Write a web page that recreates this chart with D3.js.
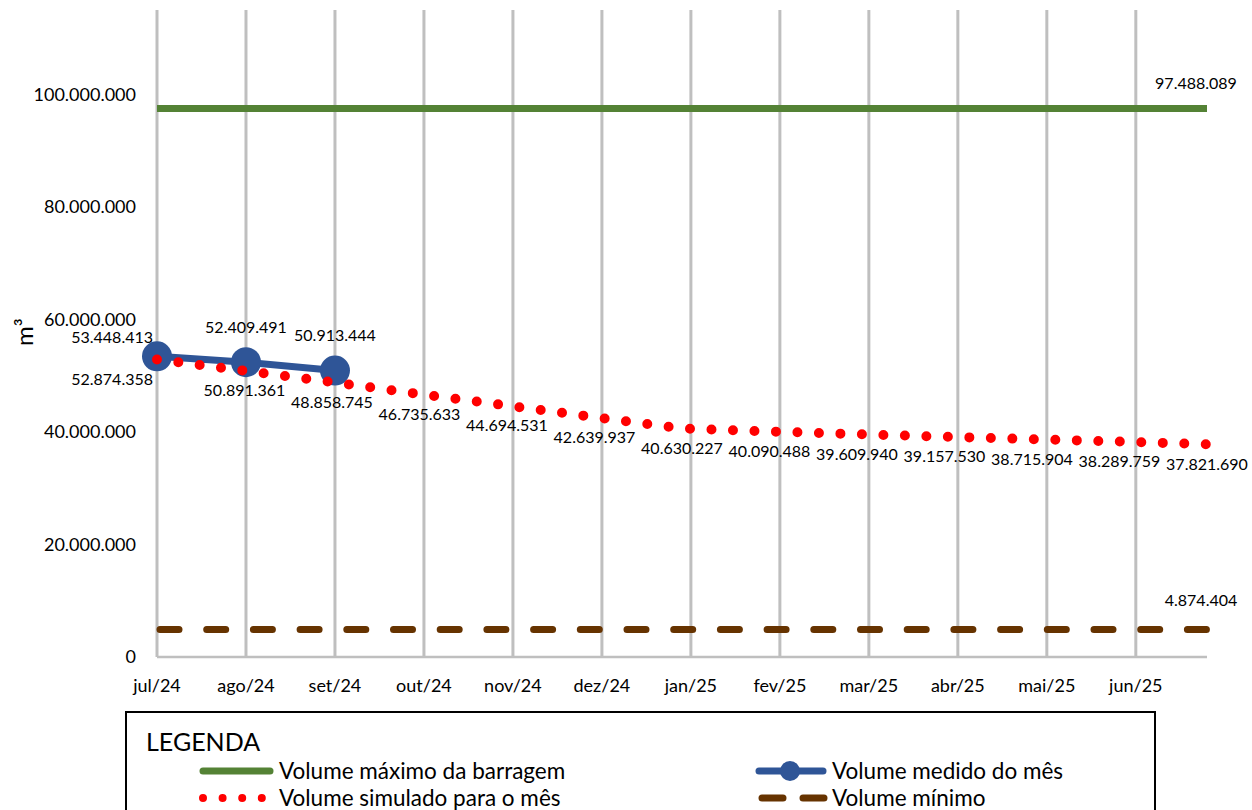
<!DOCTYPE html>
<html>
<head>
<meta charset="utf-8">
<script src="https://cdn.jsdelivr.net/npm/d3@7"></script>
<style>
  body { margin: 0; background: #fff; }
  text { font-family: Lato, 'Open Sans', sans-serif; fill: #000; }
</style>
</head>
<body>
<div class="svg-container"></div>
<script>
// months on the category axis
const months = ['jul/24', 'ago/24', 'set/24', 'out/24', 'nov/24', 'dez/24',
  'jan/25', 'fev/25', 'mar/25', 'abr/25', 'mai/25', 'jun/25'];
// simulated volume, 13 points spread over the whole plot width
const simulado = [52874358, 50891361, 48858745, 46735633, 44694531, 42639937,
  40630227, 40090488, 39609940, 39157530, 38715904, 38289759, 37821690];
// measured volume
const medido = [53448413, 52409491, 50913444];
const volMax = 97488089;
const volMin = 4874404;
const yTicks = [0, 20000000, 40000000, 60000000, 80000000, 100000000];

let width = 1252;
let height = 810;
let plotLeft = 157;
let plotRight = 1207;
let plotTop = 10;
let plotBottom = 657;

let ptBR = d3.formatLocale({ decimal: ',', thousands: '.', grouping: [3], currency: ['R$', ''] });
let fmt = ptBR.format(',d');

// axis runs a bit past jun/25
let x = d3.scaleLinear()
  .domain([0, 11.8])
  .range([plotLeft, plotRight]);

let xs = d3.scaleLinear()
  .domain([0, simulado.length - 1])
  .range([plotLeft, plotRight]);

let y = d3.scaleLinear()
  .domain([0, 115000000])
  .range([plotBottom, plotTop]);

let svg = d3.select('.svg-container')
  .append('svg')
  .attr('width', width)
  .attr('height', height);

// vertical gridlines
svg.append('g')
  .selectAll('line')
  .data(months)
  .enter()
  .append('line')
  .attr('x1', (d, i) => x(i))
  .attr('x2', (d, i) => x(i))
  .attr('y1', plotTop)
  .attr('y2', plotBottom)
  .attr('stroke', '#bfbfbf')
  .attr('stroke-width', 3);

// x axis line
svg.append('line')
  .attr('x1', plotLeft)
  .attr('x2', plotRight)
  .attr('y1', plotBottom)
  .attr('y2', plotBottom)
  .attr('stroke', '#bfbfbf')
  .attr('stroke-width', 2.5);

// x labels
svg.append('g')
  .selectAll('text')
  .data(months)
  .enter()
  .append('text')
  .attr('x', (d, i) => x(i))
  .attr('y', 692)
  .attr('text-anchor', 'middle')
  .style('font-size', '18px')
  .text(d => d);

// y labels
svg.append('g')
  .selectAll('text')
  .data(yTicks)
  .enter()
  .append('text')
  .attr('x', 136)
  .attr('y', d => y(d))
  .attr('dy', '0.35em')
  .attr('text-anchor', 'end')
  .style('font-size', '18px')
  .text(d => fmt(d));

svg.append('text')
  .attr('transform', 'translate(33, 332) rotate(-90)')
  .attr('text-anchor', 'middle')
  .style('font-size', '24px')
  .text('m³');

// max volume
svg.append('line')
  .attr('x1', xs(0))
  .attr('x2', xs(simulado.length - 1))
  .attr('y1', y(volMax))
  .attr('y2', y(volMax))
  .attr('stroke', '#548235')
  .attr('stroke-width', 7);

// min volume
svg.append('line')
  .attr('x1', xs(0) + 3)
  .attr('x2', xs(simulado.length - 1))
  .attr('y1', y(volMin))
  .attr('y2', y(volMin))
  .attr('stroke', '#663300')
  .attr('stroke-width', 7)
  .attr('stroke-linecap', 'round')
  .attr('stroke-dasharray', '19 27.7');

// measured
let medLine = d3.line()
  .x((d, i) => x(i))
  .y(d => y(d));

svg.append('path')
  .datum(medido)
  .attr('d', medLine)
  .attr('fill', 'none')
  .attr('stroke', '#2f5597')
  .attr('stroke-width', 7);

svg.append('g')
  .selectAll('circle')
  .data(medido)
  .enter()
  .append('circle')
  .attr('cx', (d, i) => x(i))
  .attr('cy', d => y(d))
  .attr('r', 15)
  .attr('fill', '#2f5597');

// simulated
let simLine = d3.line()
  .x((d, i) => xs(i))
  .y(d => y(d));

svg.append('path')
  .datum(simulado)
  .attr('d', simLine)
  .attr('fill', 'none')
  .attr('stroke', '#ff0000')
  .attr('stroke-width', 10)
  .attr('stroke-linecap', 'round')
  .attr('stroke-dasharray', '0 21.5');

// data labels
svg.append('g')
  .selectAll('text')
  .data(simulado)
  .enter()
  .append('text')
  .attr('x', (d, i) => i === 0 ? xs(i) - 4 : xs(i))
  .attr('y', d => y(d) + 20)
  .attr('dy', '0.35em')
  .attr('text-anchor', (d, i) => i === 0 ? 'end' : 'middle')
  .style('font-size', '16px')
  .text(d => fmt(d));

svg.append('g')
  .selectAll('text')
  .data(medido)
  .enter()
  .append('text')
  .attr('x', (d, i) => i === 0 ? x(i) - 4 : x(i))
  .attr('y', (d, i) => y(d) - (i === 0 ? 19 : 35))
  .attr('dy', '0.35em')
  .attr('text-anchor', (d, i) => i === 0 ? 'end' : 'middle')
  .style('font-size', '16px')
  .text(d => fmt(d));

svg.append('text')
  .attr('x', plotRight - 11)
  .attr('y', y(volMax) - 25)
  .attr('dy', '0.35em')
  .attr('text-anchor', 'middle')
  .style('font-size', '16px')
  .text(fmt(volMax));

svg.append('text')
  .attr('x', plotRight - 6)
  .attr('y', y(volMin) - 29)
  .attr('dy', '0.35em')
  .attr('text-anchor', 'middle')
  .style('font-size', '16px')
  .text(fmt(volMin));

// legend
let legend = svg.append('g');

legend.append('rect')
  .attr('x', 126)
  .attr('y', 712)
  .attr('width', 1029)
  .attr('height', 130)
  .attr('fill', '#fff')
  .attr('stroke', '#000')
  .attr('stroke-width', 2);

legend.append('text')
  .attr('x', 146)
  .attr('y', 742)
  .attr('dy', '0.35em')
  .style('font-size', '25px')
  .text('LEGENDA');

legend.append('line')
  .attr('x1', 203).attr('x2', 270)
  .attr('y1', 771).attr('y2', 771)
  .attr('stroke', '#548235')
  .attr('stroke-width', 7)
  .attr('stroke-linecap', 'round');

legend.append('line')
  .attr('x1', 203).attr('x2', 262)
  .attr('y1', 798).attr('y2', 798)
  .attr('stroke', '#ff0000')
  .attr('stroke-width', 8)
  .attr('stroke-linecap', 'round')
  .attr('stroke-dasharray', '0 19.6');

legend.append('line')
  .attr('x1', 759).attr('x2', 823)
  .attr('y1', 771).attr('y2', 771)
  .attr('stroke', '#2f5597')
  .attr('stroke-width', 7)
  .attr('stroke-linecap', 'round');

legend.append('circle')
  .attr('cx', 790)
  .attr('cy', 771)
  .attr('r', 10)
  .attr('fill', '#2f5597');

legend.append('line')
  .attr('x1', 762).attr('x2', 824)
  .attr('y1', 798).attr('y2', 798)
  .attr('stroke', '#663300')
  .attr('stroke-width', 7)
  .attr('stroke-linecap', 'round')
  .attr('stroke-dasharray', '21 20');

let legendItems = [
  ['Volume máximo da barragem', 279, 771],
  ['Volume simulado para o mês', 279, 798],
  ['Volume medido do mês', 832, 771],
  ['Volume mínimo', 832, 798]
];

legend.selectAll('.item')
  .data(legendItems)
  .enter()
  .append('text')
  .attr('class', 'item')
  .attr('x', d => d[1])
  .attr('y', d => d[2])
  .attr('dy', '0.35em')
  .style('font-size', '22.5px')
  .text(d => d[0]);
</script>
</body>
</html>
